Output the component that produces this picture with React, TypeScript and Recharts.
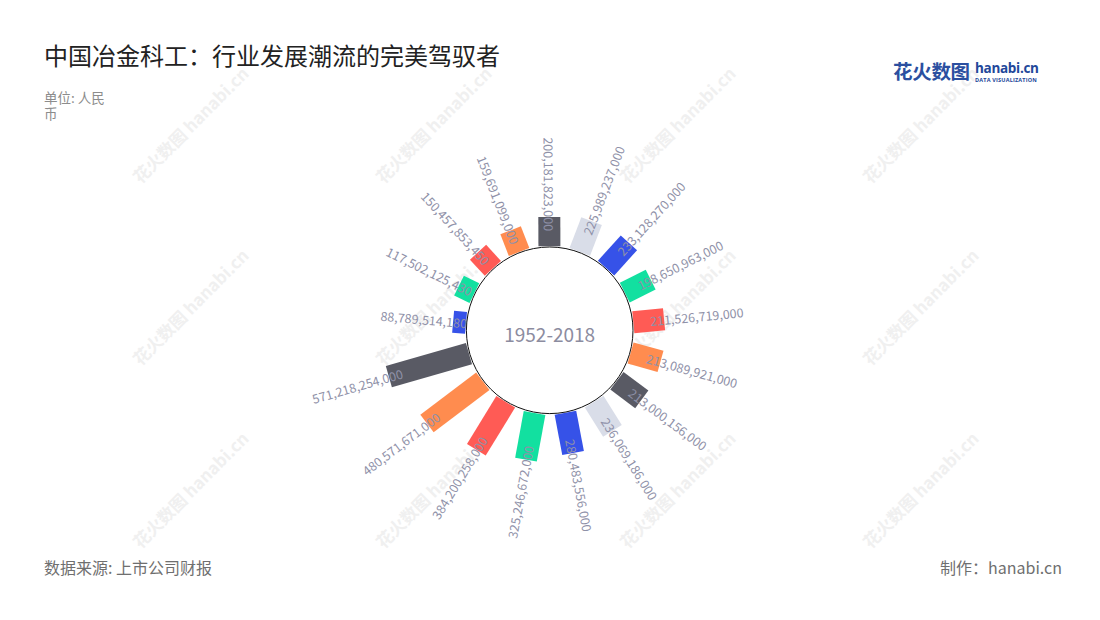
import React from "react";
import {
  RadialBarChart,
  RadialBar,
  PolarAngleAxis,
  PolarRadiusAxis,
  Cell,
} from "recharts";

// companies in drawing order (clockwise, first one sits just left of the top)
const companies = [
  "c01", "c02", "c03", "c04", "c05", "c06", "c07", "c08", "c09",
  "c10", "c11", "c12", "c13", "c14", "c15", "c16", "c17",
];
const revenue = [
  88789514180, 117502125430, 150457853450, 159691099000, 200181823000,
  225989237000, 233128270000, 198650963000, 211526719000, 213089921000,
  213000156000, 236069186000, 280483556000, 325246672000, 384200258000,
  480571671000, 571218254000,
];
const palette = ["#3652e8", "#12e0a0", "#ff5b55", "#ff8c4f", "#595a64", "#d9dde8"];
const radiusDomain = [0, 600000000000];
const periodLabel = "1952-2018";

const CX = 549.7;
const CY = 330.3;
const INNER = 84;
const OUTER = 171.6;
const STEP = 360 / companies.length;
// first bar centred 13 steps clockwise from the top
const START = 90 - 14 * STEP + STEP / 2;

const RAD = Math.PI / 180;
const FONT = '"Noto Sans CJK SC", "Noto Sans", sans-serif';

const rows = companies.map((name, i) => ({ name, value: revenue[i] }));

// bars are straight rectangles pointing out from the centre, not wedges
const BarShape = (props: any) => {
  const { cx, cy, innerRadius, outerRadius, startAngle, endAngle, fill } = props;
  const v = props.payload ? props.payload.value : props.value;
  const mid = (startAngle + endAngle) / 2;
  const compass = (((90 - mid) % 360) + 360) % 360;
  const ux = Math.sin(compass * RAD);
  const uy = -Math.cos(compass * RAD);
  const px = -uy;
  const py = ux;
  const half = (innerRadius * Math.abs(endAngle - startAngle) * RAD) / 2;
  const pts = [
    [innerRadius, -half],
    [outerRadius, -half],
    [outerRadius, half],
    [innerRadius, half],
  ]
    .map(([r, s]) => `${cx + ux * r + px * s},${cy + uy * r + py * s}`)
    .join(" ");

  const lr = outerRadius - 14;
  const lx = cx + ux * lr;
  const ly = cy + uy * lr;
  const rightSide = compass > 0.5 && compass < 180;
  const rot = rightSide ? compass - 90 : compass + 90;

  return (
    <g>
      <polygon points={pts} fill={fill} />
      <text
        x={lx}
        y={ly}
        transform={`rotate(${rot}, ${lx}, ${ly})`}
        textAnchor={rightSide ? "start" : "end"}
        dominantBaseline="central"
        fontSize={12.5}
        fontFamily={FONT}
        fill="#8f91a8"
      >
        {Number(v).toLocaleString("en-US")}
      </text>
    </g>
  );
};

const watermarkX = [185, 428, 672, 915];
const watermarkY = [130, 312, 495];

export default function App() {
  return (
    <div
      style={{
        position: "relative",
        width: 1100,
        height: 620,
        background: "#fff",
        overflow: "hidden",
        fontFamily: FONT,
      }}
    >
      <style>{"body{margin:0}"}</style>

      {watermarkY.map((y) =>
        watermarkX.map((x) => (
          <div
            key={`${x}-${y}`}
            style={{
              position: "absolute",
              left: x - 70,
              top: y - 12,
              width: 140,
              textAlign: "center",
              transform: "rotate(-45deg)",
              color: "#f0f0f0",
              fontSize: 17,
              fontWeight: 700,
              lineHeight: "24px",
              whiteSpace: "nowrap",
            }}
          >
            花火数图 hanabi.cn
          </div>
        ))
      )}

      <div
        style={{
          position: "absolute",
          left: 44,
          top: 43,
          fontSize: 24,
          lineHeight: 1,
          color: "#222",
          whiteSpace: "nowrap",
        }}
      >
        中国冶金科工：行业发展潮流的完美驾驭者
      </div>
      <div
        style={{
          position: "absolute",
          left: 44,
          top: 89,
          width: 66,
          fontSize: 13.5,
          lineHeight: "16px",
          color: "#8c8c8c",
        }}
      >
        单位: 人民币
      </div>

      <div style={{ position: "absolute", left: 893, top: 60, whiteSpace: "nowrap" }}>
        <span
          style={{
            fontSize: 19.5,
            fontWeight: 700,
            color: "#2b4fa0",
            lineHeight: "22px",
            letterSpacing: -0.3,
          }}
        >
          花火数图
        </span>
      </div>
      <div
        style={{
          position: "absolute",
          left: 975,
          top: 61,
          fontSize: 13.5,
          fontWeight: 700,
          color: "#22479a",
          lineHeight: "15px",
          fontFamily: '"Open Sans", sans-serif',
          letterSpacing: -0.3,
        }}
      >
        hanabi.cn
      </div>
      <div
        style={{
          position: "absolute",
          left: 975,
          top: 77,
          fontSize: 5.5,
          color: "#22479a",
          lineHeight: "6px",
          letterSpacing: 0.2,
          fontFamily: '"Open Sans", sans-serif',
          fontWeight: 700,
        }}
      >
        DATA VISUALIZATION
      </div>

      <div style={{ position: "absolute", left: 0, top: 0 }}>
        <RadialBarChart
          width={1100}
          height={620}
          data={rows}
          layout="centric"
          cx={CX}
          cy={CY}
          innerRadius={INNER}
          outerRadius={OUTER}
          startAngle={START}
          endAngle={START - 360}
          barCategoryGap="15.5%"
          margin={{ top: 0, right: 0, bottom: 0, left: 0 }}
        >
          <PolarAngleAxis
            type="category"
            dataKey="name"
            tick={false}
            tickLine={false}
            axisLine={false}
          />
          <PolarRadiusAxis
            type="number"
            domain={radiusDomain}
            tick={false}
            tickLine={false}
            axisLine={false}
          />
          <RadialBar dataKey="value" isAnimationActive={false} shape={BarShape}>
            {rows.map((r, i) => (
              <Cell key={r.name} fill={palette[i % palette.length]} />
            ))}
          </RadialBar>
        </RadialBarChart>
      </div>

      <svg
        width={1100}
        height={620}
        style={{ position: "absolute", left: 0, top: 0, pointerEvents: "none" }}
      >
        <circle cx={CX} cy={CY} r={INNER - 0.7} fill="#fff" stroke="#111" strokeWidth={1} />
        <text
          x={CX}
          y={CY + 3}
          textAnchor="middle"
          dominantBaseline="central"
          fontSize={19}
          fontFamily={FONT}
          fill="#8c8ca0"
        >
          {periodLabel}
        </text>
      </svg>

      <div
        style={{
          position: "absolute",
          left: 44,
          top: 558,
          fontSize: 16,
          lineHeight: "18px",
          color: "#6f6f6f",
        }}
      >
        数据来源: 上市公司财报
      </div>
      <div
        style={{
          position: "absolute",
          right: 38,
          top: 558,
          fontSize: 16,
          lineHeight: "18px",
          color: "#6f6f6f",
        }}
      >
        制作：hanabi.cn
      </div>
    </div>
  );
}
